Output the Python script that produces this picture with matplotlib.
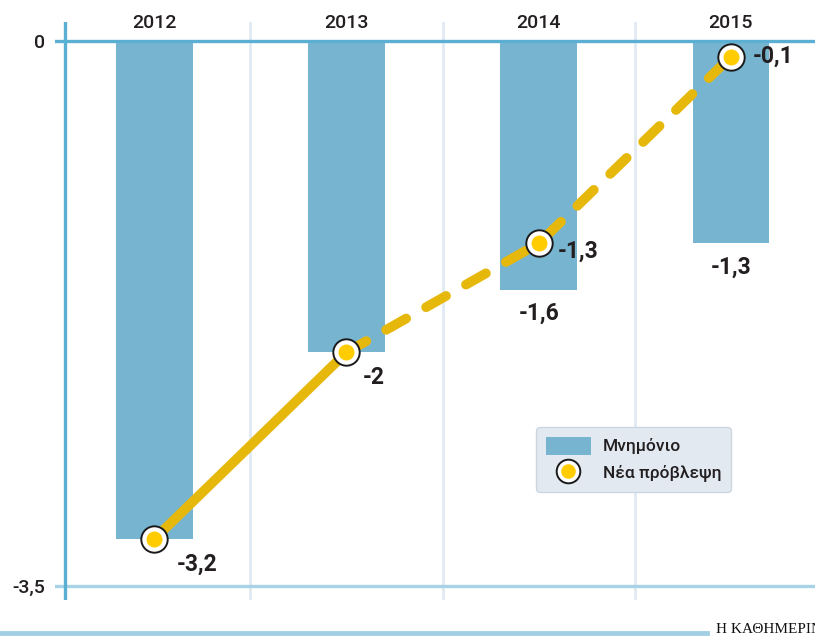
import matplotlib.pyplot as plt
from matplotlib.lines import Line2D
from matplotlib.patches import Patch

# data
years = ['2012', '2013', '2014', '2015']
memorandum = [-3.2, -2.0, -1.6, -1.3]
new_forecast = [-3.2, -2.0, -1.3, -0.1]
ytick_vals = [0, -3.5]
ytick_labels = ['0', '-3,5']
legend_labels = ['Μνημόνιο', 'Νέα πρόβλεψη']
source = 'Η ΚΑΘΗΜΕΡΙΝΗ'

plt.rcParams['font.family'] = ['Roboto', 'DejaVu Sans']
plt.rcParams['lines.scale_dashes'] = False

bar_col = '#77B4D0'
line_col = '#E6B80C'
dot_col = '#FFCC00'
txt_col = '#231F20'


def fmt(v):
    s = f'{v:.1f}'.replace('.', ',')
    return s[:-2] if s.endswith(',0') else s


fig = plt.figure(figsize=(8.15, 6.37), dpi=100)
ax = fig.add_axes([55 / 815, 37 / 637, 760 / 815, 578 / 637])
x = list(range(len(years)))

ax.set_xlim(-0.515, 3.437)
ax.set_ylim(-3.59, 0.122)
for s in ax.spines.values():
    s.set_visible(False)

# grid / frame lines
for g in [0.5, 1.5, 2.5]:
    ax.axvline(g, color='#E1EAF2', lw=2, zorder=0)
ax.axvline(-0.463, color='#5AAFD2', lw=2.4, zorder=3)
ax.axhline(0, color='#5AAFD2', lw=2.4, zorder=3)
ax.axhline(-3.5, color='#A8D2E6', lw=2.4, zorder=0)

ax.bar(x, memorandum, width=0.40, color=bar_col, zorder=1)

# new forecast line: solid to 2013, dashed afterwards
ax.plot(x[:2], new_forecast[:2], color=line_col, lw=7,
        solid_capstyle='round', zorder=4)
ax.plot(x[1:], new_forecast[1:], color=line_col, lw=7,
        dashes=(16.5, 16.5), dash_capstyle='round', zorder=4)
ax.plot(x, new_forecast, 'o', ms=19, mfc='white', mec='#1A1A1A',
        mew=1.4, zorder=5)
ax.plot(x, new_forecast, 'o', ms=11.5, mfc=dot_col, mec='none', zorder=6)

# value labels
offsets = [(16, -18), (12, -18), (14, -6), (16, 0)]
for xi, v, off in zip(x, new_forecast, offsets):
    ax.annotate(fmt(v), (xi, v), xytext=off, textcoords='offset points',
                ha='left', va='center', fontsize=16.5, fontweight='bold',
                color=txt_col, zorder=7)
for xi, m, f in zip(x, memorandum, new_forecast):
    if m != f:
        ax.annotate(fmt(m), (xi, m), xytext=(0, -17), textcoords='offset points',
                    ha='center', va='center', fontsize=16.5,
                    fontweight='bold', color=txt_col)

# year labels
for xi, yr in zip(x, years):
    ax.text(xi, 0.058, yr, ha='center', va='bottom', fontsize=14,
            fontweight='medium', color=txt_col)

ax.set_xticks([])
ax.set_yticks(ytick_vals)
ax.set_yticklabels(ytick_labels, fontsize=14, fontweight='medium',
                   color=txt_col)
ax.tick_params(axis='y', length=0, pad=7)

# legend
handles = [Patch(facecolor=bar_col, edgecolor='none'),
           (Line2D([], [], ls='none', marker='o', ms=17, mfc='white',
                   mec='#1A1A1A', mew=1.4),
            Line2D([], [], ls='none', marker='o', ms=10.5, mfc=dot_col,
                   mec='none'))]
leg = ax.legend(handles, legend_labels, loc='upper left',
                bbox_to_anchor=(0.633, 0.299), borderaxespad=0,
                prop={'size': 12.5, 'weight': 'medium'},
                frameon=True, fancybox=True, shadow=False,
                handlelength=2.6, handleheight=1.2, labelspacing=0.5,
                borderpad=0.55, handletextpad=0.7)
fr = leg.get_frame()
fr.set_facecolor('#E2E9F1')
fr.set_edgecolor('#CDD6DF')
fr.set_alpha(1)
for t in leg.get_texts():
    t.set_color(txt_col)

# footer
fig.add_artist(Line2D([0, 707 / 815], [4 / 637, 4 / 637], color='#A3CFE4',
                      lw=3.5))
fig.text(716 / 815, 1 / 637, source, ha='left', va='bottom', fontsize=11,
         family=['Liberation Serif', 'DejaVu Serif'], color='#111111')

fig.savefig('out.png', dpi=100)
